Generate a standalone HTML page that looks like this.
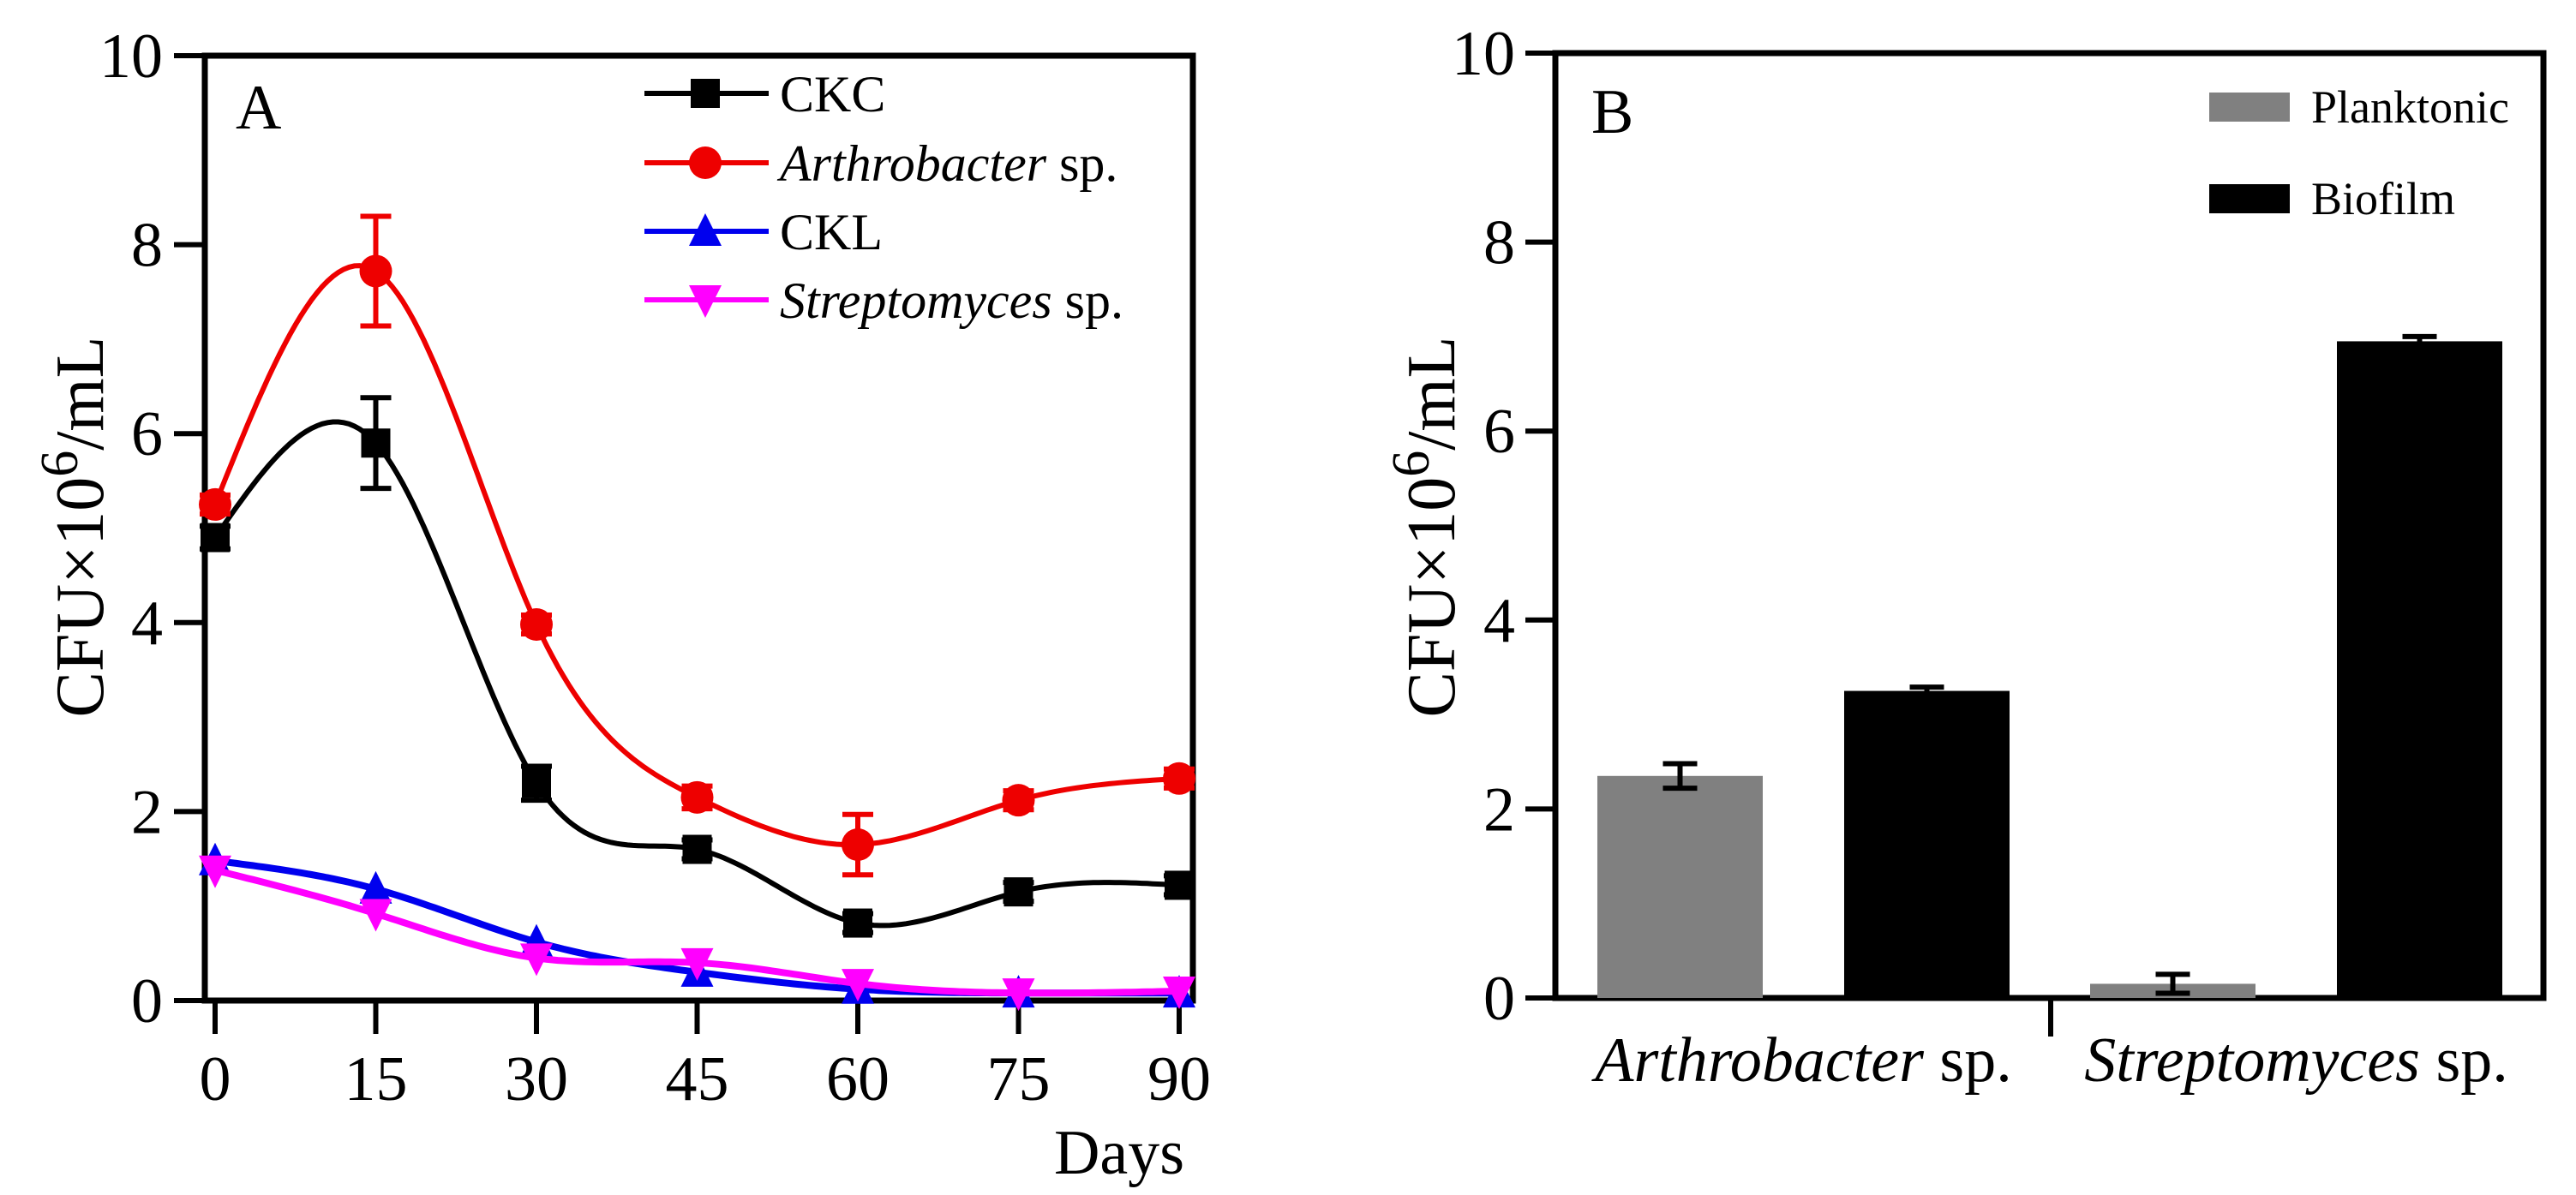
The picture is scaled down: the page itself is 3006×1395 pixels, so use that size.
<!DOCTYPE html>
<html><head><meta charset="utf-8">
<style>
html,body{margin:0;padding:0;background:#fff;}
svg{display:block;font-family:"Liberation Serif",serif;}
</style></head>
<body>
<svg id="chart" width="3006" height="1395" viewBox="0 0 3006 1395" xmlns="http://www.w3.org/2000/svg">
<g id="panelA"></g>
<g id="panelB"></g>
</svg>
<script>
// ---- Panel A data ----
const daysA = [0, 15, 30, 45, 60, 75, 90];
const ckcVals = [4.9, 5.9, 2.3, 1.6, 0.82, 1.15, 1.22];
const ckcErr = [0.12, 0.48, 0.18, 0.1, 0.1, 0.1, 0.1];
const arthVals = [5.25, 7.72, 3.98, 2.15, 1.65, 2.12, 2.35];
const arthErr = [0.1, 0.58, 0.1, 0.12, 0.32, 0.1, 0.1];
const cklVals = [1.48, 1.18, 0.62, 0.3, 0.12, 0.08, 0.08];
const strepVals = [1.38, 0.92, 0.45, 0.4, 0.18, 0.08, 0.1];
const yTicksA = [0, 2, 4, 6, 8, 10];
const xTicksA = [0, 15, 30, 45, 60, 75, 90];
// ---- Panel B data ----
const categoriesB = ["Arthrobacter", "Streptomyces"];
const planktonicVals = [2.35, 0.15];
const planktonicErr = [0.13, 0.1];
const biofilmVals = [3.25, 6.95];
const biofilmErr = [0.04, 0.05];
const yTicksB = [0, 2, 4, 6, 8, 10];

const NS = "http://www.w3.org/2000/svg";
function mk(parent, tag, attrs, text) {
  const e = document.createElementNS(NS, tag);
  for (const k in attrs) e.setAttribute(k, attrs[k]);
  if (text !== undefined) e.textContent = text;
  parent.appendChild(e);
  return e;
}
const xA = d => 251 + (d / 90) * (1376 - 251);
const yA = v => 1168 - v * 110.3;
const yB = v => 1165 - v * 110.3;

const A = document.getElementById('panelA');
const B = document.getElementById('panelB');

function splinePath(xs, ys) {
  const n = xs.length, h = [], a = ys.slice(), al = [0], l = [1], mu = [0], z = [0];
  for (let i = 0; i < n - 1; i++) h.push(xs[i + 1] - xs[i]);
  for (let i = 1; i < n - 1; i++) al.push(3 / h[i] * (a[i + 1] - a[i]) - 3 / h[i - 1] * (a[i] - a[i - 1]));
  for (let i = 1; i < n - 1; i++) {
    l[i] = 2 * (xs[i + 1] - xs[i - 1]) - h[i - 1] * mu[i - 1];
    mu[i] = h[i] / l[i];
    z[i] = (al[i] - h[i - 1] * z[i - 1]) / l[i];
  }
  const c = new Array(n).fill(0), b = [], d = [];
  for (let j = n - 2; j >= 0; j--) {
    c[j] = z[j] - mu[j] * c[j + 1];
    b[j] = (a[j + 1] - a[j]) / h[j] - h[j] * (c[j + 1] + 2 * c[j]) / 3;
    d[j] = (c[j + 1] - c[j]) / (3 * h[j]);
  }
  let p = "";
  for (let j = 0; j < n - 1; j++) {
    for (let s = 0; s <= 30; s++) {
      const t = h[j] * s / 30;
      const v = a[j] + b[j] * t + c[j] * t * t + d[j] * t * t * t;
      p += (p ? "L" : "M") + xA(xs[j] + t).toFixed(1) + "," + yA(v).toFixed(1);
    }
  }
  return p;
}
function marker(g, type, cx, cy, color, s) {
  let e;
  if (type === 'sq') e = mk(g, 'rect', {x: cx - s, y: cy - s, width: 2 * s, height: 2 * s, fill: color});
  else if (type === 'ci') e = mk(g, 'circle', {cx: cx, cy: cy, r: s + 2, fill: color});
  else if (type === 'up') e = mk(g, 'polygon', {points: `${cx},${cy - s - 4} ${cx - s - 2},${cy + s} ${cx + s + 2},${cy + s}`, fill: color});
  else e = mk(g, 'polygon', {points: `${cx},${cy + s + 4} ${cx - s - 2},${cy - s} ${cx + s + 2},${cy - s}`, fill: color});
  return e;
}
function errBar(g, cx, v, e, color, yf, cap) {
  mk(g, 'path', {d: `M${cx},${yf(v - e)}V${yf(v + e)}M${cx - cap},${yf(v - e)}H${cx + cap}M${cx - cap},${yf(v + e)}H${cx + cap}`, stroke: color, 'stroke-width': 6, fill: 'none'});
}

mk(A, 'rect', {x: 239, y: 65, width: 1153, height: 1103, fill: 'none', stroke: '#000', 'stroke-width': 7});
yTicksA.forEach(t => {
  const gt = mk(A, 'g', {});
  
  
  mk(gt, 'line', {x1: 203, x2: 239, y1: yA(t), y2: yA(t), stroke: '#000', 'stroke-width': 6});
  mk(gt, 'text', {x: 190, y: yA(t) + 25, 'font-size': 74, 'text-anchor': 'end'}, t);
});
xTicksA.forEach(t => {
  const gt = mk(A, 'g', {});
  
  
  mk(gt, 'line', {x1: xA(t), x2: xA(t), y1: 1168, y2: 1207, stroke: '#000', 'stroke-width': 6});
  mk(gt, 'text', {x: xA(t), y: 1284, 'font-size': 74, 'text-anchor': 'middle'}, t);
});
const xtA = mk(A, 'text', {x: 1306, y: 1370, 'font-size': 74, 'text-anchor': 'middle'}, 'Days');


const ytA = mk(A, 'text', {transform: 'translate(120,615) rotate(-90)', 'font-size': 80, 'text-anchor': 'middle'});


mk(ytA, 'tspan', {}, 'CFU×10');
mk(ytA, 'tspan', {dy: -30, 'font-size': 62}, '6');
mk(ytA, 'tspan', {dy: 30}, '/mL');
const lblA = mk(A, 'text', {x: 275, y: 150, 'font-size': 74}, 'A');



const seriesA = [
  {name: 'CKC', vals: ckcVals, err: ckcErr, color: '#000', m: 'sq', w: 6},
  {name: 'arthrobacter', vals: arthVals, err: arthErr, color: '#ee0000', m: 'ci', w: 6},
  {name: 'CKL', vals: cklVals, err: null, color: '#0000ee', m: 'up', w: 8},
  {name: 'streptomyces', vals: strepVals, err: null, color: '#ff00ff', m: 'dn', w: 8},
];
seriesA.forEach(s => {
  const g = mk(A, 'g', {});
  
  
  const ln = mk(g, 'path', {d: splinePath(daysA, s.vals), stroke: s.color, 'stroke-width': s.w, fill: 'none'});
  
  daysA.forEach((d, i) => {
    if (s.err) errBar(g, xA(d), s.vals[i], s.err[i], s.color, yA, 18);
    const m = marker(g, s.m, xA(d), yA(s.vals[i]), s.color, 17);
    
    
  });
});
const legA = [
  {label: 'CKC', it: '', color: '#000', m: 'sq', y: 109},
  {label: 'Arthrobacter', it: ' sp.', color: '#ee0000', m: 'ci', y: 190},
  {label: 'CKL', it: '', color: '#0000ee', m: 'up', y: 270},
  {label: 'Streptomyces', it: ' sp.', color: '#ff00ff', m: 'dn', y: 350},
];
legA.forEach(l => {
  const g = mk(A, 'g', {});
  
  
  mk(g, 'line', {x1: 752, x2: 897, y1: l.y, y2: l.y, stroke: l.color, 'stroke-width': 6});
  marker(g, l.m, 823, l.y, l.color, 17);
  const t = mk(g, 'text', {x: 910, y: l.y + 21, 'font-size': 60});
  if (l.it) { mk(t, 'tspan', {'font-style': 'italic'}, l.label); mk(t, 'tspan', {}, l.it); }
  else t.textContent = l.label;
});

mk(B, 'rect', {x: 1815, y: 62, width: 1153, height: 1103, fill: 'none', stroke: '#000', 'stroke-width': 7});
yTicksB.forEach(t => {
  const gt = mk(B, 'g', {});
  
  
  mk(gt, 'line', {x1: 1780, x2: 1815, y1: yB(t), y2: yB(t), stroke: '#000', 'stroke-width': 6});
  mk(gt, 'text', {x: 1768, y: yB(t) + 25, 'font-size': 74, 'text-anchor': 'end'}, t);
});
const ytB = mk(B, 'text', {transform: 'translate(1697,615) rotate(-90)', 'font-size': 80, 'text-anchor': 'middle'});


mk(ytB, 'tspan', {}, 'CFU×10');
mk(ytB, 'tspan', {dy: -30, 'font-size': 62}, '6');
mk(ytB, 'tspan', {dy: 30}, '/mL');
const lblB = mk(B, 'text', {x: 1857, y: 155, 'font-size': 74}, 'B');


mk(B, 'line', {x1: 2393, x2: 2393, y1: 1165, y2: 1210, stroke: '#000', 'stroke-width': 6});

const groupLeft = [1864, 2439];
const barW = 193, gap = 288;
categoriesB.forEach((c, i) => {
  const x0 = groupLeft[i];
  const p = mk(B, 'rect', {x: x0, y: yB(planktonicVals[i]), width: barW, height: yB(0) - yB(planktonicVals[i]), fill: '#808080'});
  
  
  errBar(B, x0 + barW / 2, planktonicVals[i], planktonicErr[i], '#000', yB, 20);
  const bb = mk(B, 'rect', {x: x0 + gap, y: yB(biofilmVals[i]), width: barW, height: yB(0) - yB(biofilmVals[i]), fill: '#000'});
  
  
  errBar(B, x0 + gap + barW / 2, biofilmVals[i], biofilmErr[i], '#000', yB, 20);
  const t = mk(B, 'text', {x: x0 + (gap + barW) / 2, y: 1262, 'font-size': 74, 'text-anchor': 'middle'});
  
  
  mk(t, 'tspan', {'font-style': 'italic'}, c);
  mk(t, 'tspan', {}, ' sp.');
});
const legB = [{label: 'Planktonic', color: '#808080', y: 108}, {label: 'Biofilm', color: '#000', y: 215}];
legB.forEach(l => {
  const g = mk(B, 'g', {});
  
  
  mk(g, 'rect', {x: 2578, y: l.y, width: 94, height: 34, fill: l.color});
  mk(g, 'text', {x: 2697, y: l.y + 35, 'font-size': 54}, l.label);
});
</script>
</body></html>
